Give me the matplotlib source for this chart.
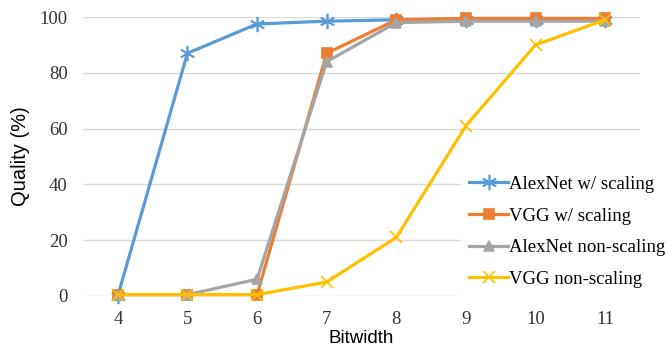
import matplotlib.pyplot as plt

# 数据
bitwidth = [4, 5, 6, 7, 8, 9, 10, 11]
alexnet_scaling = [0, 87, 97.5, 98.5, 99, 99, 99, 99]
vgg_scaling = [0.5, 0.5, 0.5, 87, 99, 99.5, 99.5, 99.5]
alexnet_nonscaling = [0.5, 0.5, 6, 84, 98, 98.5, 98.5, 98.5]
vgg_nonscaling = [0.5, 0.5, 0.5, 5, 21, 61, 90, 99]

series = [
    (alexnet_scaling, '#5B9BD5', (6, 2, 0), 11, 'AlexNet w/ scaling'),
    (vgg_scaling, '#ED7D31', 's', 7.5, 'VGG w/ scaling'),
    (alexnet_nonscaling, '#A5A5A5', '^', 7.5, 'AlexNet non-scaling'),
    (vgg_nonscaling, '#FFC000', 'x', 8, 'VGG non-scaling'),
]

serif = ['Liberation Serif', 'DejaVu Serif']
sans = ['Liberation Sans', 'DejaVu Sans']
fs = 13.5

fig = plt.figure(figsize=(6.66, 3.47), dpi=100)
ax = fig.add_axes([83 / 666, 1 - 296 / 347, (640 - 83) / 666, (296 - 17) / 347])

for y, color, marker, ms, label in series:
    ax.plot(bitwidth, y, color=color, marker=marker, markersize=ms, linewidth=2.3,
            markeredgewidth=1.2, label=label, clip_on=False, zorder=3)

ax.set_xlim(3.5, 11.5)
ax.set_ylim(0, 100)
ax.set_xticks(bitwidth)
ax.set_yticks([0, 20, 40, 60, 80, 100])
ax.grid(axis='y', color='#D9D9D9', linewidth=1)
ax.set_axisbelow(True)
for s in ax.spines.values():
    s.set_visible(False)
ax.tick_params(length=0, pad=11)
for t in ax.get_xticklabels() + ax.get_yticklabels():
    t.set_fontfamily(serif)
    t.set_fontsize(fs)
    t.set_color('#333333')

ax.set_ylabel('Quality (%)', fontfamily=sans, fontsize=14.5, labelpad=7)
ax.set_xlabel('Bitwidth', fontfamily=sans, fontsize=fs, labelpad=1)

leg = ax.legend(loc='upper left', bbox_to_anchor=(452 / 666, 1 - 159 / 347),
                bbox_transform=fig.transFigure, frameon=True, fancybox=False,
                prop={'family': serif, 'size': fs}, handlelength=2.1,
                handletextpad=0.05, labelspacing=0.77, borderpad=0.4)
leg.get_frame().set_facecolor('white')
leg.get_frame().set_edgecolor('white')
leg.get_frame().set_alpha(1)
leg.set_zorder(5)

fig.savefig('out.png', dpi=100)
